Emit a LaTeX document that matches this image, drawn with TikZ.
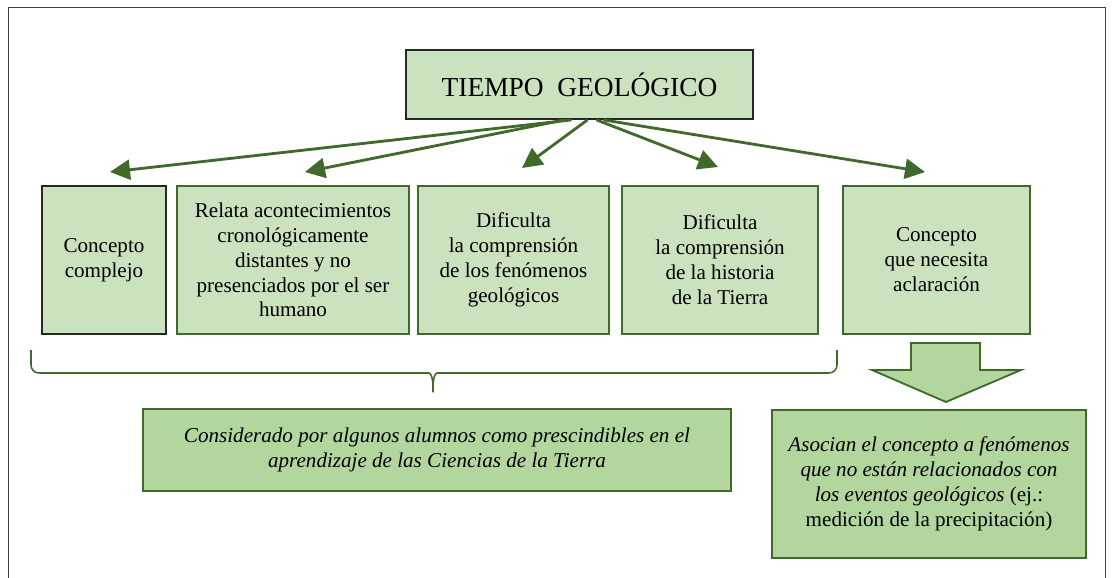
\documentclass[tikz,border=0pt]{standalone}
\usepackage{fontspec}
\setmainfont{Liberation Serif}
\usetikzlibrary{arrows.meta}
\definecolor{leafgreen}{HTML}{CBE2BF}
\definecolor{mossgreen}{HTML}{B2D69E}
\definecolor{forestgreen}{HTML}{3F6A2C}
\tikzset{
  idea/.style={draw=forestgreen, fill=leafgreen, line width=1.3pt, align=center,
    inner sep=2pt, font=\fontsize{15}{17.7}\selectfont, minimum height=3.7cm},
  result/.style={draw=forestgreen, fill=mossgreen, line width=1.3pt, align=center,
    font=\fontsize{15}{17.7}\selectfont},
  link/.style={draw=forestgreen, line width=2pt, -{Triangle[length=0.5cm,width=0.5cm]}},
}

\begin{document}
\begin{tikzpicture}[x=0.025cm,y=-0.025cm]
    \useasboundingbox (0,0) rectangle (1112,578);
    % frame
    \draw[black!75, line width=0.6pt] (8,578) |- (1105,7) -- (1105,578);
    % title
    \node[idea, draw=black!85, minimum width=8.675cm, minimum height=1.725cm,
      font=\fontsize{19.5}{22}\selectfont] (tiempo) at (579.5,84.5) {TIEMPO\ \ GEOLÓGICO};
    % row of concepts
    \node[idea, draw=black!85, minimum width=3.1cm] (complejo) at (104,260) {Concepto\\complejo};
    \node[idea, minimum width=5.8cm] (relata) at (293,260) {Relata acontecimientos\\cronológicamente\\distantes y no\\presenciados por el ser\\humano};
    \node[idea, minimum width=4.775cm] (fenomenos) at (513.5,260) {Dificulta\\la comprensión\\de los fenómenos\\geológicos};
    \node[idea, minimum width=4.9cm] (historia) at (720,260) {Dificulta\\la comprensión\\de la historia\\de la Tierra};
    \node[idea, minimum width=4.675cm] (aclaracion) at (936.5,260) {Concepto\\que necesita\\aclaración};
    % arrow tips
    \coordinate (a1) at (110,172);
    \coordinate (a2) at (305,172);
    \coordinate (a3) at (522,168);
    \coordinate (a4) at (718,167);
    \coordinate (a5) at (925,172);
    \draw[link] ([xshift=-0.2cm]tiempo.south) -- (a1);
    \draw[link] ([xshift=-0.375cm]tiempo.south) -- (a2);
    \draw[link] ([xshift=0.2cm]tiempo.south) -- (a3);
    \draw[link] ([xshift=0.425cm]tiempo.south) -- (a4);
    \draw[link] ([xshift=0.6cm]tiempo.south) -- (a5);
    % brace
    \draw[forestgreen, line width=1.1pt, rounded corners=0.2cm] (31,350) -- (31,373) -- (421,373)
      .. controls (431,373) and (433,378) .. (433,397)
      .. controls (433,378) and (435,373) .. (445,373) -- (837,373) -- (837,350);
    % big arrow
    \draw[forestgreen, fill=mossgreen, line width=1.3pt] (911,343) -- (980,343) -- (980,370)
      -- (1021,370) -- (946,402) -- (872,370) -- (911,370) -- cycle;
    % results
    \node[result, minimum width=14.7cm, minimum height=2.05cm,
      font=\fontsize{15}{17.7}\selectfont\itshape] (prescindible) at (437,450)
      {Considerado por algunos alumnos como prescindibles en el\\aprendizaje de las Ciencias de la Tierra};
    \node[result, minimum width=7.85cm, minimum height=3.7cm] (asocian) at (929,484)
      {\textit{Asocian el concepto a fenómenos}\\\textit{que no están relacionados con}\\\textit{los eventos geológicos} (ej.:\\medición de la precipitación)};
\end{tikzpicture}
\end{document}
